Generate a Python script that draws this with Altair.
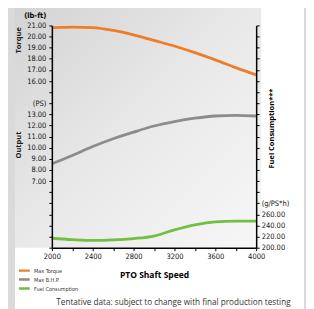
import altair as alt
import pandas as pd

rpm = [2000, 2200, 2400, 2600, 2800, 3000, 3200, 3400, 3600, 3800, 4000]
torque = [20.80, 20.85, 20.80, 20.55, 20.15, 19.65, 19.15, 18.55, 17.90, 17.20, 16.55]
bhp = [8.55, 9.30, 10.10, 10.80, 11.40, 11.95, 12.35, 12.65, 12.85, 12.90, 12.85]
fuel = [217, 214.5, 213, 214, 216.5, 221, 232, 241, 246.5, 248, 248]

series_names = ["Max Torque", "Max B.H.P.", "Fuel Consumption"]
series_colors = ["#F07C28", "#8C8C8C", "#72BF44"]

left_ticks = list(range(1, 22))
right_ticks = list(range(200, 601, 20))
x_ticks = list(range(2000, 4001, 200))

W, H = 205, 223
FONT = "Liberation Sans Narrow, Arial Narrow, DejaVu Sans Condensed, sans-serif"

df_left = pd.DataFrame({
    "rpm": rpm * 2,
    "val": torque + bhp,
    "series": ["Max Torque"] * len(rpm) + ["Max B.H.P."] * len(rpm),
})
df_fuel = pd.DataFrame({"rpm": rpm, "val": fuel, "series": ["Fuel Consumption"] * len(rpm)})

color = alt.Color(
    "series:N",
    scale=alt.Scale(domain=series_names, range=series_colors),
    sort=series_names,
    legend=alt.Legend(
        title=None, orient="none", legendX=-33, legendY=243,
        symbolType="M-2,0H2", symbolStrokeWidth=2.5, symbolSize=40,
        labelFontSize=5.5, labelFont=FONT, labelColor="#333", rowPadding=2,
        labelOffset=6, clipHeight=6,
    ),
)

x_axis = alt.Axis(
    values=x_ticks, labelExpr="datum.value % 400 == 0 ? datum.value : ''",
    title="PTO Shaft Speed", titleFontSize=8.5, titleFontWeight="bold", titleFont="Open Sans",
    titlePadding=10, labelFontSize=7.5, labelFont=FONT, labelColor="#111",
    tickSize=3, tickColor="#000", domainColor="#000", domainWidth=1.5, grid=False,
    labelPadding=2, labelFlush=False, zindex=2,
)
x_enc = alt.X("rpm:Q", scale=alt.Scale(domain=[2000, 4000], nice=False), axis=x_axis)

bg_panel = alt.Chart(pd.DataFrame({"a": [0]})).mark_rect(fill="#ffffff").encode(
    x=alt.value(-37), x2=alt.value(W + 48), y=alt.value(-20), y2=alt.value(H + 70)
)
bg_grad = alt.Chart(pd.DataFrame({"a": [0]})).mark_rect(
    fill=alt.Gradient(
        gradient="linear", x1=0, y1=0, x2=1, y2=1,
        stops=[alt.GradientStop(color="#d3d3d3", offset=0),
               alt.GradientStop(color="#e9e9e9", offset=0.5),
               alt.GradientStop(color="#f7f7f7", offset=1)],
    )
).encode(x=alt.value(-37), x2=alt.value(W + 5), y=alt.value(-20), y2=alt.value(H))

left_lines = alt.Chart(df_left).mark_line(strokeWidth=2.8, interpolate="monotone").encode(
    x=x_enc,
    y=alt.Y("val:Q", scale=alt.Scale(domain=[1, 21], nice=False, zero=False),
            axis=alt.Axis(
                values=left_ticks, orient="left",
                labelExpr="datum.value == 14 ? '(PS)' : ((datum.value >= 16 || (datum.value >= 7 && datum.value <= 13)) ? format(datum.value, '.2f') : '')",
                title="(lb-ft)", titleAngle=0, titleX=-6, titleY=-10, titleAlign="right",
                titleBaseline="middle", titleFontSize=7.5, titleFont=FONT, titleFontWeight="bold",
                labelFontSize=7.5, labelFont=FONT, labelColor="#111", labelPadding=3,
                tickSize=3, tickColor="#000", domainColor="#000", domainWidth=1.5, grid=False,
                zindex=2,
            )),
    color=color,
    order=alt.Order("rpm:Q"),
)

fuel_line = alt.Chart(df_fuel).mark_line(strokeWidth=2.8, interpolate="monotone").encode(
    x=x_enc,
    y=alt.Y("val:Q", scale=alt.Scale(domain=[200, 600], nice=False, zero=False),
            axis=alt.Axis(
                values=right_ticks, orient="right",
                labelExpr="datum.value == 280 ? '(g/PS*h)' : (datum.value <= 260 ? format(datum.value, '.2f') : '')",
                title="Fuel Consumption***", titleAngle=270, titleX=19, titleY=103,
                titleFontSize=7.5, titleFont="Open Sans", titleFontWeight="bold",
                labelFontSize=7.5, labelFont=FONT, labelColor="#111", labelPadding=2,
                tickSize=3, tickColor="#000", domainColor="#000", domainWidth=1.5, grid=False,
                zindex=2,
            )),
    color=color,
    order=alt.Order("rpm:Q"),
)

side_labels = pd.DataFrame({"t": ["Torque", "Output"], "py": [15, 120]})
side_text = alt.Chart(side_labels).mark_text(
    angle=270, fontSize=7.5, fontWeight="bold", font="Open Sans", color="#222"
).encode(text="t:N", x=alt.value(-33), y=alt.Y("py:Q", scale=None))

footer = alt.Chart(pd.DataFrame({"t": ["Tentative data: subject to change with final production testing"]})).mark_text(
    fontSize=8.2, font="Open Sans", color="#333", baseline="middle"
).encode(text="t:N", x=alt.value(122), y=alt.value(278))

chart = alt.layer(bg_panel, bg_grad, left_lines, fuel_line, side_text, footer).resolve_scale(
    y="independent"
).properties(
    width=W, height=H,
    autosize=alt.AutoSizeParams(type="none"),
    padding={"left": 44, "top": 17, "right": 50, "bottom": 62},
    background="#dadada",
).configure_view(stroke=None)

chart.save("out.html", embed_options={"renderer": "svg", "actions": False})
